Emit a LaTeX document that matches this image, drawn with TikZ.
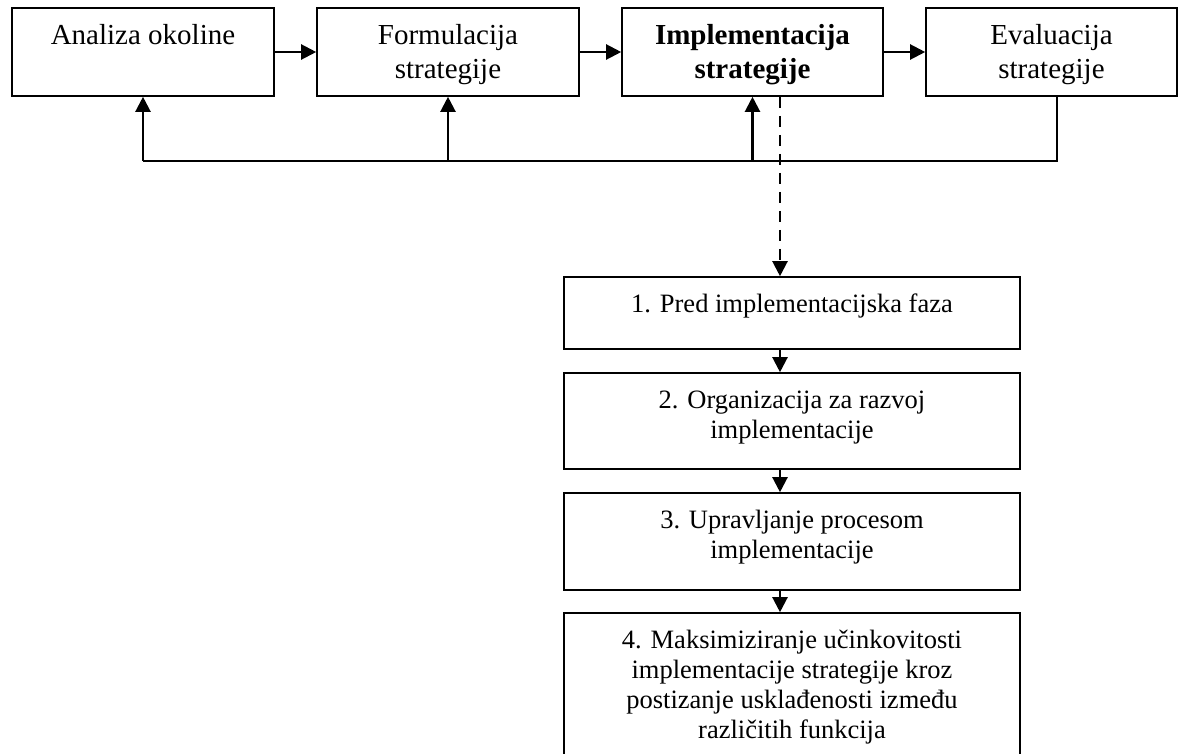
\documentclass[tikz,border=0pt]{standalone}
\usepackage{fontspec}
\setmainfont{Liberation Serif}
\usetikzlibrary{arrows.meta}
\begin{document}
\begin{tikzpicture}[x=1pt,y=-1pt,
  box/.style={draw, line width=1.6pt, inner sep=0pt, rectangle},
  toptxt/.style={inner sep=0pt, align=center, anchor=north, font=\fontsize{29}{34}\selectfont},
  bottxt/.style={inner sep=0pt, align=center, anchor=north, font=\fontsize{26.5}{30}\selectfont},
  arr/.style={line width=2.2pt, -{Triangle[length=15pt,width=15pt]}},
  fb/.style={line width=1.6pt},
  dasharr/.style={line width=2.2pt, dash pattern=on 11pt off 8pt, -{Triangle[length=15pt,width=15pt]}}]
\useasboundingbox (0,0) rectangle (1179,753);
\fill[white] (0,0) rectangle (1179,753);
% top row
\node[box, minimum width=262pt, minimum height=88pt] (a1) at (143,52) {};
\node[box, minimum width=262pt, minimum height=88pt] (a2) at (448,52) {};
\node[box, minimum width=261pt, minimum height=88pt] (a3) at (752.5,52) {};
\node[box, minimum width=251pt, minimum height=88pt] (a4) at (1051.5,52) {};
\node[toptxt] (t1) at ([yshift=-13.2pt]a1.north) {\strut Analiza okoline};
\node[toptxt] (t2) at ([yshift=-13.2pt]a2.north) {\strut Formulacija\\strategije};
\node[toptxt, font=\fontsize{29}{34}\selectfont\bfseries] (t3) at ([yshift=-13.2pt]a3.north) {\strut Implementacija\\strategije};
\node[toptxt] (t4) at ([yshift=-13.2pt]a4.north) {\strut Evaluacija\\strategije};
\draw[arr] (a1) -- (a2);
\draw[arr] (a2) -- (a3);
\draw[arr] (a3) -- (a4);
% feedback loop
\coordinate (fbR) at (1057,161);
\draw[fb] (a4.south -| fbR) -- (fbR) -- (fbR -| a1.south);
\draw[arr] (fbR -| a1.south) -- (a1.south);
\draw[arr] (fbR -| a2.south) -- (a2.south);
\draw[arr] (fbR -| a3.south) -- (a3.south);
% bottom column
\node[box, minimum width=456pt, minimum height=72pt] (b1) at (792,313) {};
\node[box, minimum width=456pt, minimum height=96pt] (b2) at (792,421) {};
\node[box, minimum width=456pt, minimum height=97pt] (b3) at (792,541.5) {};
\node[box, minimum width=456pt, minimum height=172pt] (b4) at (792,699) {};
\node[bottxt] (u1) at ([yshift=-15.5pt]b1.north) {\strut 1. Pred implementacijska faza};
\node[bottxt] (u2) at ([yshift=-15.5pt]b2.north) {\strut 2. Organizacija za razvoj\\implementacije};
\node[bottxt] (u3) at ([yshift=-15.5pt]b3.north) {\strut 3. Upravljanje procesom\\implementacije};
\node[bottxt] (u4) at ([yshift=-15.5pt]b4.north) {\strut 4. Maksimiziranje učinkovitosti\\implementacije strategije kroz\\postizanje usklađenosti između\\različitih funkcija};
\coordinate (dx) at (780,0);
\draw[dasharr] (a3.south -| dx) -- (b1.north -| dx);
\draw[arr] (b1.south -| dx) -- (b2.north -| dx);
\draw[arr] (b2.south -| dx) -- (b3.north -| dx);
\draw[arr] (b3.south -| dx) -- (b4.north -| dx);
\end{tikzpicture}
\end{document}
